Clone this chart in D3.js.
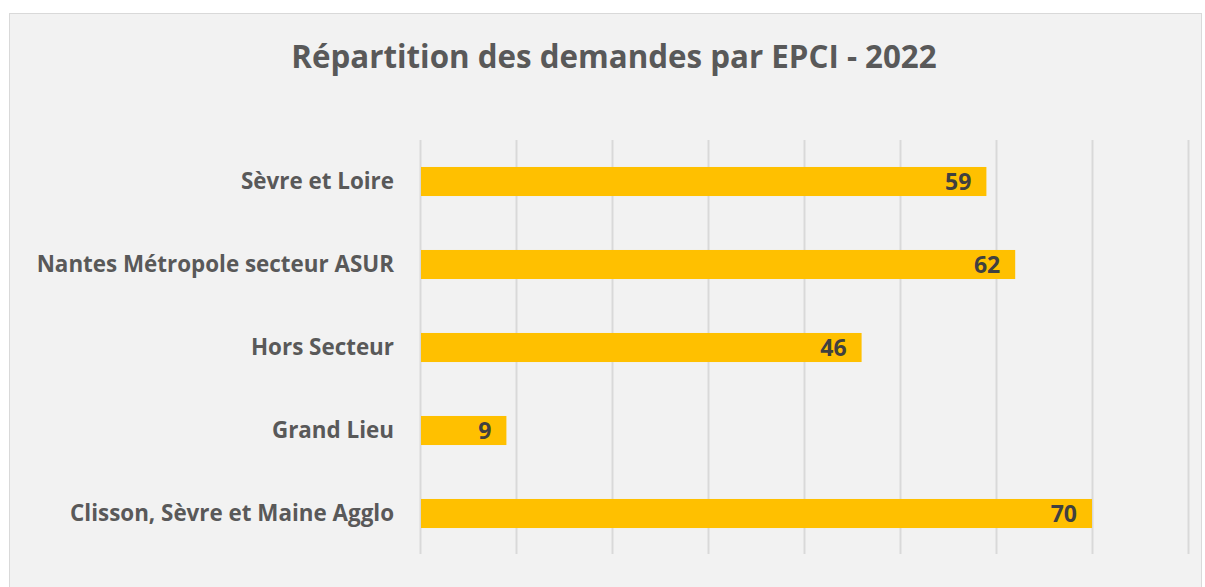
<!DOCTYPE html>
<html lang="fr">
<head>
<meta charset="UTF-8">
<title>Répartition des demandes par EPCI - 2022</title>
<script src="https://cdn.jsdelivr.net/npm/d3@7"></script>
<style>
  body { margin: 0; background: #ffffff; }
  text { font-family: "Open Sans", "Noto Sans", sans-serif; font-weight: bold; }
</style>
</head>
<body>
<script>
    var categories = ["Sèvre et Loire", "Nantes Métropole secteur ASUR", "Hors Secteur", "Grand Lieu", "Clisson, Sèvre et Maine Agglo"];
    var values = [59, 62, 46, 9, 70];
    var xTicks = [0, 10, 20, 30, 40, 50, 60, 70, 80];

    var W = 1205, H = 587;
    var margin = {top: 140, right: 17, bottom: 32, left: 420};

    var svg = d3.select("body").append("svg")
        .attr("width", W)
        .attr("height", H);

    // chart area background + border
    svg.append("rect")
        .attr("x", 9.5).attr("y", 13.5)
        .attr("width", 1192).attr("height", 590)
        .attr("fill", "#f2f2f2")
        .attr("stroke", "#d9d9d9")
        .attr("stroke-width", 1);

    svg.append("text")
        .attr("x", 614).attr("y", 68)
        .attr("text-anchor", "middle")
        .attr("font-size", 31.3)
        .attr("fill", "#595959")
        .text("Répartition des demandes par EPCI - 2022");

    var g = svg.append("g")
        .attr("transform", "translate(" + margin.left + "," + margin.top + ")");

    var x = d3.scaleLinear().domain([0, 80]).range([0, 768]);
    var y = d3.scaleBand().domain(categories).range([0, 415]).paddingInner(0.65).paddingOuter(0.325);

    // vertical gridlines
    var xAxis = d3.axisBottom(x)
        .tickValues(xTicks)
        .tickSize(-414)
        .tickFormat("");
    var xg = g.append("g")
        .attr("transform", "translate(0,414)")
        .call(xAxis);
    xg.select(".domain").remove();
    xg.selectAll(".tick line").attr("stroke", "#d9d9d9").attr("stroke-width", 2);

    // category labels
    var yAxis = d3.axisLeft(y).tickSize(0).tickPadding(26);
    var yg = g.append("g").call(yAxis);
    yg.select(".domain").remove();
    yg.selectAll(".tick text")
        .attr("font-size", 22.4)
        .attr("fill", "#595959")
        .style("font-family", "'Open Sans', sans-serif")
        .style("font-weight", "bold");

    var data = categories.map(function (c, i) { return {cat: c, val: values[i]}; });

    g.selectAll(".bar")
        .data(data)
        .enter().append("rect")
        .attr("class", "bar")
        .attr("x", x(0) + 1)
        .attr("y", function (d) { return y(d.cat); })
        .attr("width", function (d) { return x(d.val) - 1; })
        .attr("height", y.bandwidth())
        .attr("fill", "#ffc000");

    g.selectAll(".val")
        .data(data)
        .enter().append("text")
        .attr("class", "val")
        .attr("x", function (d) { return x(d.val) - 15; })
        .attr("y", function (d) { return y(d.cat) + y.bandwidth() / 2; })
        .attr("dy", "0.36em")
        .attr("text-anchor", "end")
        .attr("font-size", 23)
        .attr("fill", "#404040")
        .text(function (d) { return d.val; });
</script>
</body>
</html>
